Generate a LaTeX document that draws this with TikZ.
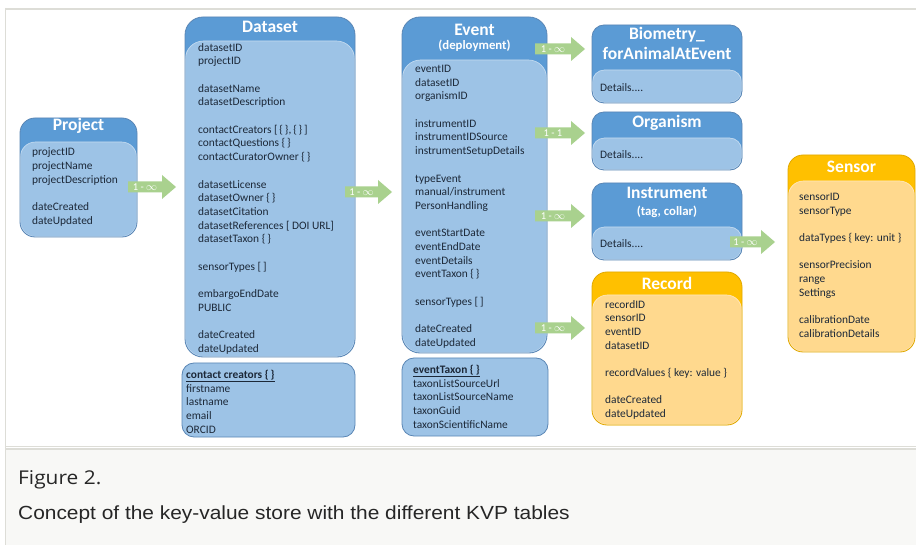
\documentclass[tikz,border=0pt]{standalone}
\usepackage{fontspec}
\setmainfont{Carlito}
\newfontfamily\capA[FakeStretch=1.1]{Open Sans}
\newfontfamily\capB[FakeStretch=1.1]{Liberation Sans}
\definecolor{hblue}{HTML}{5B9BD5}
\definecolor{bblue}{HTML}{9DC3E6}
\definecolor{lblue}{HTML}{5A86B5}
\definecolor{horange}{HTML}{FFC000}
\definecolor{borange}{HTML}{FFD98E}
\definecolor{lorange}{HTML}{E0A800}
\definecolor{agreen}{HTML}{A9D18E}
\definecolor{txt}{HTML}{1C2838}
\definecolor{frameg}{HTML}{DDDDD7}
\definecolor{capbg}{HTML}{F8F8F6}
\tikzset{
  bodytxt/.style={font=\fontsize{11.4}{13.7}\selectfont, text=txt, align=left, inner sep=0pt, anchor=north west},
  ttl/.style={font=\bfseries\fontsize{17.5}{19.5}\selectfont, text=white, align=center, inner sep=0pt},
  subttl/.style={font=\bfseries\fontsize{12.8}{14}\selectfont, text=white, inner sep=0pt},
  lbl/.style={font=\fontsize{10.5}{11}\selectfont, text=white, inner sep=0pt},
}
% name, x1, y1, x2, y2, ybody, head, body, border
\newcommand\kvtab[9]{%
  \fill[#7,rounded corners=\kvr] (#2,#3) rectangle (#4,#5);
  \fill[#8,rounded corners=\kvr] (#2,#6) rectangle (#4,#5);
  \draw[#8!60!white,line width=0.6pt,rounded corners=\kvr] (#2+0.5,#6) rectangle (#4-0.5,#5-0.5);
  \draw[#9,line width=0.8pt,rounded corners=\kvr] (#2,#3) rectangle (#4,#5);
  \coordinate (#1-nw) at (#2,#3);
  \coordinate (#1-se) at (#4,#5);
}
% name, x1, x2, y, label
\newcommand\kvarrow[5]{%
  \fill[agreen] (#2,#4-5.5) -- (#3-14,#4-5.5) -- (#3-14,#4-12) -- (#3,#4) -- (#3-14,#4+12) -- (#3-14,#4+5.5) -- (#2,#4+5.5) -- cycle;
  \node[lbl] (#1) at ({(#2+#3-14)/2},#4) {#5};
}
\begin{document}
\begin{tikzpicture}[x=1pt,y=-1pt]
\useasboundingbox (0,0) rectangle (916,545);
\fill[white] (0,0) rectangle (916,545);
% frame
\fill[capbg] (6,448) rectangle (916,545);
\draw[frameg,line width=2pt] (5,9) -- (916,9);
\draw[frameg,line width=1.5pt] (5.5,8) -- (5.5,545);
\draw[frameg,line width=1pt] (6,446.5) -- (916,446.5);
\draw[frameg,line width=1.5pt] (6,449) -- (916,449);

% Project
\def\kvr{15pt}
\kvtab{project}{20}{118}{137}{237}{142}{hblue}{bblue}{lblue}
\node[ttl] (projectT) at (78.5,126) {Project};
\node[bodytxt] (projectB) at (32,147.9) {projectID\\projectName\\projectDescription\\[13.7pt]dateCreated\\dateUpdated};

% Dataset
\def\kvr{18pt}
\kvtab{dataset}{185}{17}{355}{357}{41}{hblue}{bblue}{lblue}
\node[ttl] (datasetT) at (270,27) {Dataset};
\node[bodytxt] (datasetB) at (198,42.9) {datasetID\\projectID\\[13.7pt]datasetName\\datasetDescription\\[13.7pt]contactCreators [\,\{\,\},\,\{\,\}\,]\\contactQuestions \{\,\}\\contactCuratorOwner \{\,\}\\[13.7pt]datasetLicense\\datasetOwner \{\,\}\\datasetCitation\\datasetReferences [ DOI URL]\\datasetTaxon \{\,\}\\[13.7pt]sensorTypes [\,]\\[13.7pt]embargoEndDate\\PUBLIC\\[13.7pt]dateCreated\\dateUpdated};

% contact creators
\def\kvr{12pt}
\fill[bblue,rounded corners=\kvr] (182,363) rectangle (355,437);
\draw[lblue,line width=0.8pt,rounded corners=\kvr] (182,363) rectangle (355,437);
\node[bodytxt] (contactB) at (186,369.9) {\textbf{\underline{contact creators \{\,\}}}\\firstname\\lastname\\email\\ORCID};

% Event
\def\kvr{18pt}
\kvtab{event}{402}{17}{547}{353}{60}{hblue}{bblue}{lblue}
\node[ttl] (eventT) at (474.5,30) {Event};
\node[subttl] (eventS) at (474.5,46) {(deployment)};
\node[bodytxt] (eventB) at (415,64.9) {eventID\\datasetID\\organismID\\[13.7pt]instrumentID\\instrumentIDSource\\instrumentSetupDetails\\[13.7pt]typeEvent\\manual/instrument\\PersonHandling\\[13.7pt]eventStartDate\\eventEndDate\\eventDetails\\eventTaxon \{\,\}\\[13.7pt]sensorTypes [\,]\\[13.7pt]dateCreated\\dateUpdated};

% eventTaxon
\def\kvr{12pt}
\fill[bblue,rounded corners=\kvr] (402,358) rectangle (548,436);
\draw[lblue,line width=0.8pt,rounded corners=\kvr] (402,358) rectangle (548,436);
\node[bodytxt] (taxonB) at (413,364.9) {\textbf{\underline{eventTaxon \{\,\}}}\\taxonListSourceUrl\\taxonListSourceName\\taxonGuid\\taxonScientificName};

% Biometry
\def\kvr{12pt}
\kvtab{bio}{592}{25}{742}{103}{70}{hblue}{bblue}{lblue}
\node[ttl] (bioT) at (667,43.5) {Biometry\_\\forAnimalAtEvent};
\node[bodytxt] (bioB) at (600,82.9) {Details....};

% Organism
\kvtab{org}{592}{112}{742}{170}{138}{hblue}{bblue}{lblue}
\node[ttl] (orgT) at (667,123) {Organism};
\node[bodytxt] (orgB) at (600,149.9) {Details....};

% Instrument
\kvtab{inst}{592}{183}{742}{260}{227}{hblue}{bblue}{lblue}
\node[ttl] (instT) at (667,193) {Instrument};
\node[subttl] (instS) at (667,212) {(tag, collar)};
\node[bodytxt] (instB) at (600,238.9) {Details....};

% Record
\def\kvr{15pt}
\kvtab{rec}{592}{272}{742}{425}{295}{horange}{borange}{lorange}
\node[ttl] (recT) at (667,283) {Record};
\node[bodytxt] (recB) at (605,299.9) {recordID\\sensorID\\eventID\\datasetID\\[13.7pt]recordValues \{ key: value \}\\[13.7pt]dateCreated\\dateUpdated};

% Sensor
\kvtab{sen}{788}{155}{915}{352}{181}{horange}{borange}{lorange}
\node[ttl] (senT) at (851.5,167) {Sensor};
\node[bodytxt] (senB) at (799,192.9) {sensorID\\sensorType\\[13.7pt]dataTypes \{ key: unit \}\\[13.7pt]sensorPrecision\\range\\Settings\\[13.7pt]calibrationDate\\calibrationDetails};

% arrows
\kvarrow{a1}{128}{176}{187}{1 - $\infty$}
\kvarrow{a2}{345}{392}{192}{1 - $\infty$}
\kvarrow{a3}{535}{585}{49}{1 - $\infty$}
\kvarrow{a4}{535}{585}{133}{1 - 1}
\kvarrow{a5}{535}{585}{216}{1 - $\infty$}
\kvarrow{a6}{535}{585}{328}{1 - $\infty$}
\kvarrow{a7}{730}{775}{242}{1 - $\infty$}

% caption
\node[anchor=west,font=\capA\fontsize{19}{22}\selectfont,text=black!85,inner sep=0pt] (fig) at (18,480) {Figure 2.};
\node[anchor=west,font=\capB\fontsize{19}{22}\selectfont,text=black!85,inner sep=0pt] (cap) at (18,515) {Concept of the key-value store with the different KVP tables};
\end{tikzpicture}
\end{document}
